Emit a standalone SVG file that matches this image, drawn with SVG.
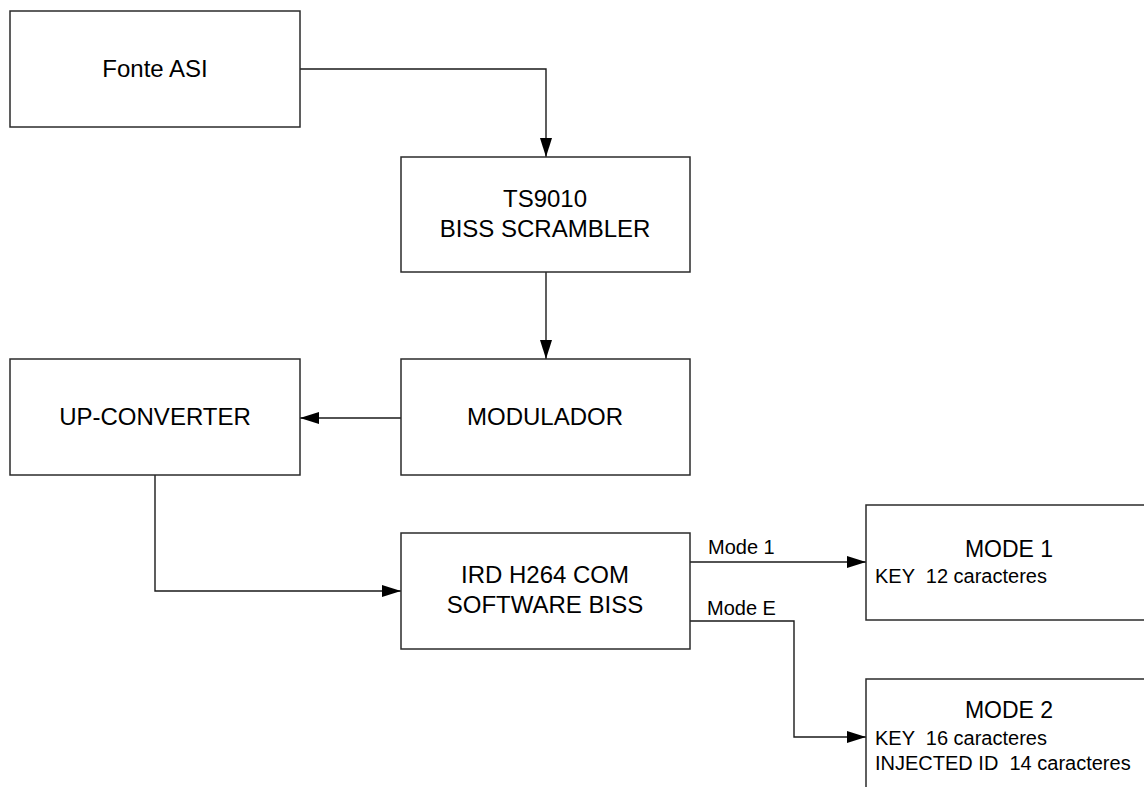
<svg xmlns="http://www.w3.org/2000/svg" width="1144" height="787" viewBox="0 0 1144 787">
<style>
.box{fill:#fff;stroke:#2b2b2b;stroke-width:1.5}
.t{font-family:"Liberation Sans",Arial,sans-serif;font-size:24px;fill:#000;text-anchor:middle}
.h{font-family:"Liberation Sans",Arial,sans-serif;font-size:23px;fill:#000;text-anchor:middle}
.s{font-family:"Liberation Sans",Arial,sans-serif;font-size:20px;fill:#000;white-space:pre}
.c{fill:none;stroke:#1a1a1a;stroke-width:1.4}
</style>
<defs>
<marker id="arr" markerUnits="userSpaceOnUse" markerWidth="19" markerHeight="12" refX="19" refY="6" orient="auto">
<path d="M0,0 L19,6 L0,12 z" fill="#000"/>
</marker>
</defs>
<rect width="1144" height="787" fill="#fff"/>
<g id="connectors">
<path class="c" d="M300,69 H546 V157" marker-end="url(#arr)"/>
<path class="c" d="M546,272 V359" marker-end="url(#arr)"/>
<path class="c" d="M401,418 H300" marker-end="url(#arr)"/>
<path class="c" d="M155,475 V591 H401" marker-end="url(#arr)"/>
<path class="c" d="M690,562 H866" marker-end="url(#arr)"/>
<path class="c" d="M690,621 H794 V737 H866" marker-end="url(#arr)"/>
<text class="s" x="708" y="554">Mode 1</text>
<text class="s" x="707" y="615">Mode E</text>
</g>
<g id="fonte">
<rect class="box" x="10" y="11" width="290" height="116"/>
<text class="t" x="155" y="77">Fonte ASI</text>
</g>
<g id="scrambler">
<rect class="box" x="401" y="157" width="289" height="115"/>
<text class="t" x="545" y="207">TS9010</text>
<text class="t" x="545" y="237">BISS SCRAMBLER</text>
</g>
<g id="modulador">
<rect class="box" x="401" y="359" width="289" height="116"/>
<text class="t" x="545" y="425">MODULADOR</text>
</g>
<g id="upconverter">
<rect class="box" x="10" y="359" width="290" height="116"/>
<text class="t" x="155" y="425">UP-CONVERTER</text>
</g>
<g id="ird">
<rect class="box" x="401" y="533" width="289" height="116"/>
<text class="t" x="545" y="583">IRD H264 COM</text>
<text class="t" x="545" y="613">SOFTWARE BISS</text>
</g>
<g id="mode1">
<rect class="box" x="866" y="505" width="300" height="115"/>
<text class="h" x="1009" y="557">MODE 1</text>
<text class="s" x="875" y="583">KEY  12 caracteres</text>
</g>
<g id="mode2">
<rect class="box" x="866" y="679" width="300" height="130"/>
<text class="h" x="1009" y="718">MODE 2</text>
<text class="s" x="875" y="745">KEY  16 caracteres</text>
<text class="s" x="875" y="770">INJECTED ID  14 caracteres</text>
</g>
</svg>
